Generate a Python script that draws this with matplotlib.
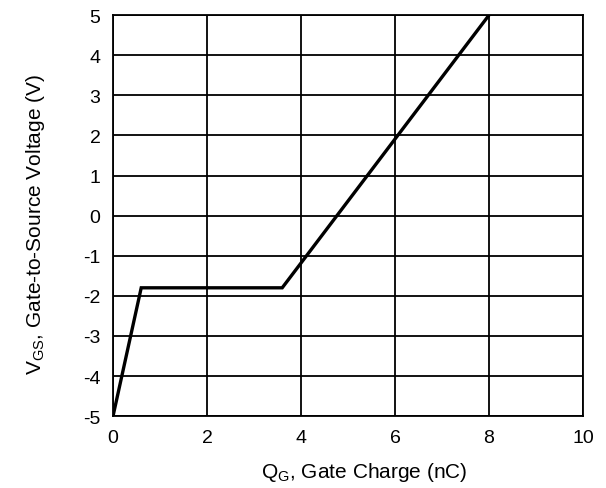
import numpy as np
import matplotlib
matplotlib.use("Agg")
import matplotlib.pyplot as plt

# gate charge curve (nC, V)
qg = [0.0, 0.6, 3.6, 8.0]
vgs = [-5.0, -1.8, -1.8, 5.0]

x_ticks = [0, 2, 4, 6, 8, 10]
y_ticks = [-5, -4, -3, -2, -1, 0, 1, 2, 3, 4, 5]

plt.rcParams["font.family"] = ["Liberation Sans", "DejaVu Sans"]
plt.rcParams["mathtext.fontset"] = "custom"
plt.rcParams["mathtext.rm"] = "Liberation Sans"
plt.rcParams["mathtext.it"] = "Liberation Sans"
plt.rcParams["axes.unicode_minus"] = False

fig = plt.figure(figsize=(6.06, 4.89), dpi=100)
ax = fig.add_axes([0.1865, 0.147, 0.7755, 0.820])

ax.plot(qg, vgs, color="black", linewidth=2.4, solid_joinstyle="miter", zorder=3)

ax.set_xlim(0, 10)
ax.set_ylim(-5, 5)
ax.set_xticks(x_ticks)
ax.set_yticks(y_ticks)
ax.tick_params(length=0, labelsize=14, pad=9)
ax.grid(True, color="black", linewidth=1.3)
for s in ax.spines.values():
    s.set_linewidth(1.3)

ax.set_xlabel(r"$\mathregular{Q_G}$, Gate Charge (nC)", fontsize=15, labelpad=10, x=0.535)
ax.set_ylabel(r"$\mathregular{V_{GS}}$, Gate-to-Source Voltage (V)", fontsize=15, labelpad=26, y=0.48)

fig.savefig("out.png", dpi=100)
